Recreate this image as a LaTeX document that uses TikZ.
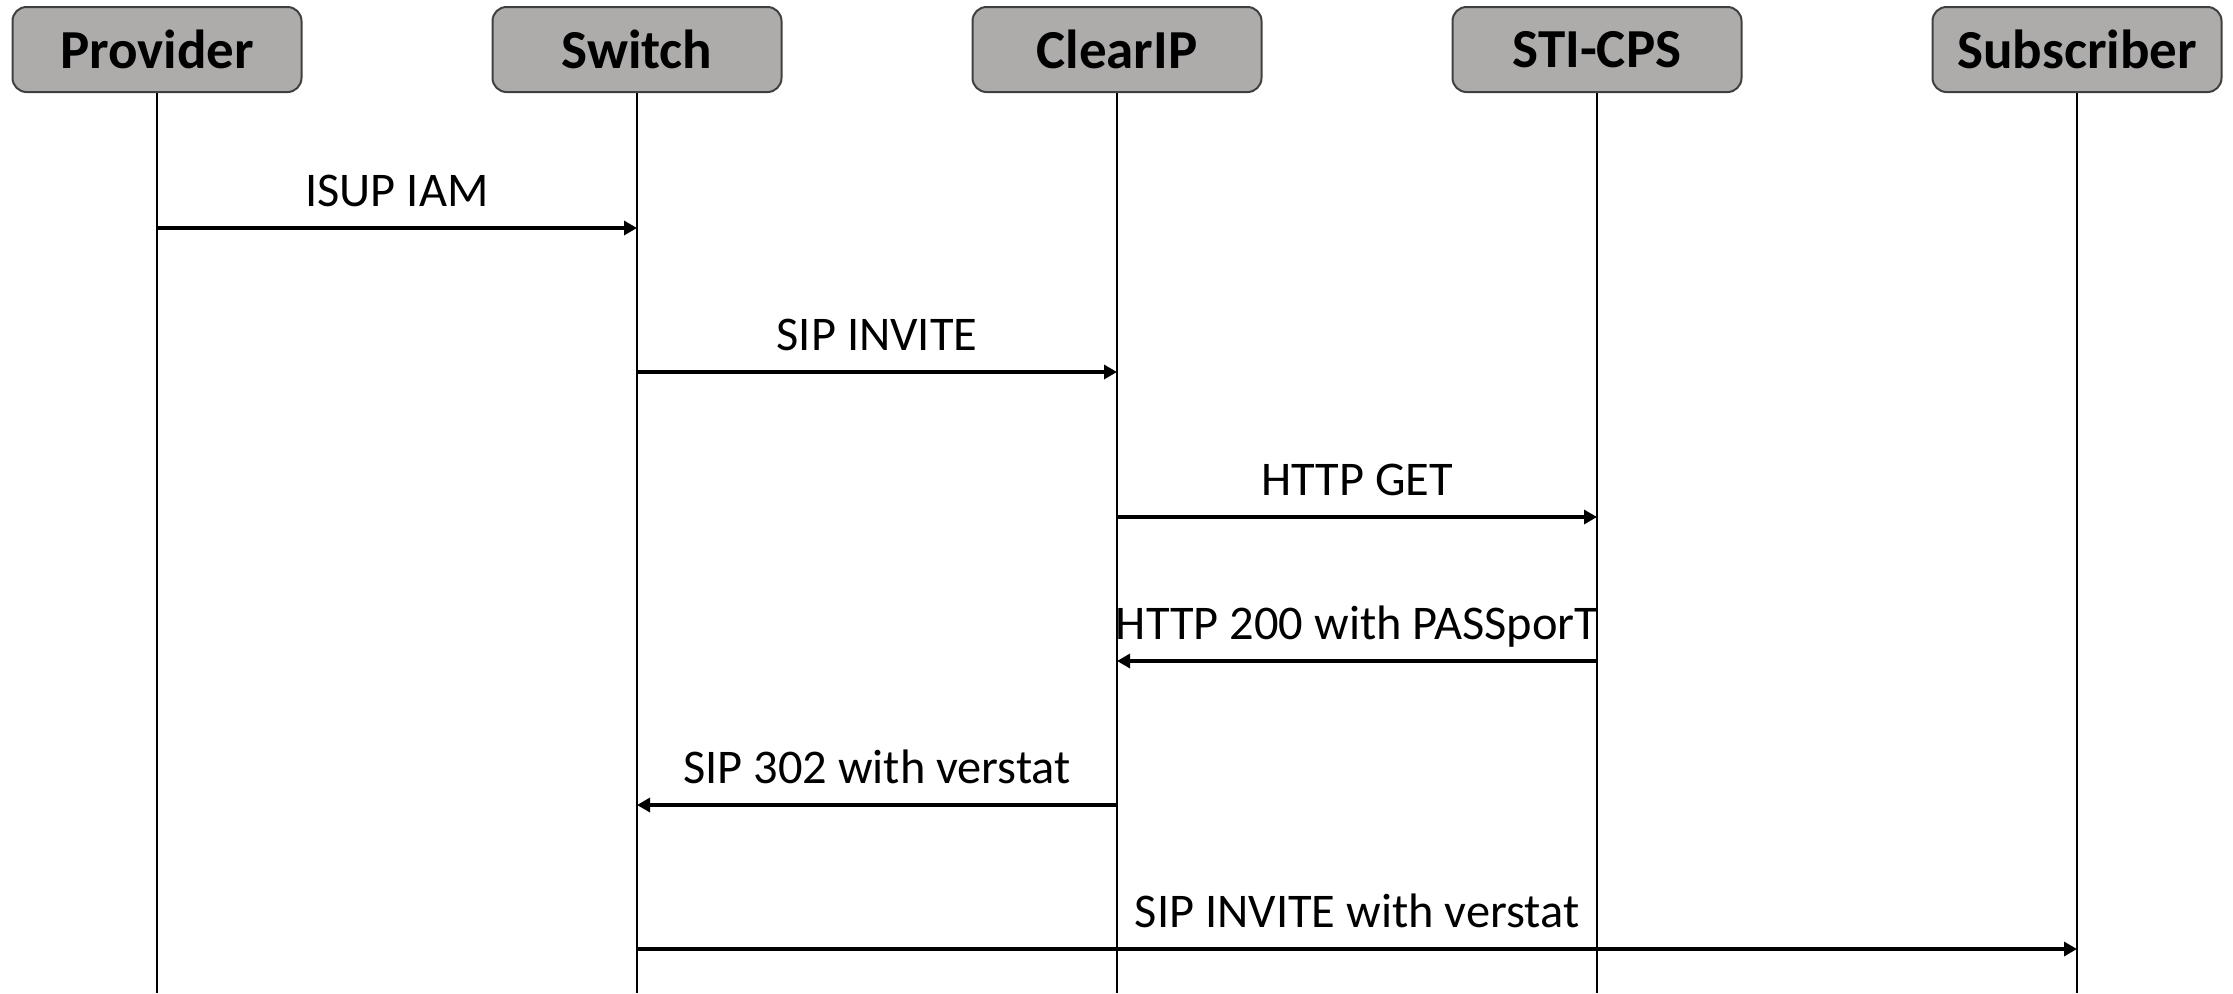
\documentclass[tikz,border=0pt]{standalone}
\usepackage{fontspec}
\setmainfont{Carlito}
\usetikzlibrary{arrows.meta,calc}
\definecolor{boxfill}{HTML}{AEABAB}
\definecolor{boxline}{HTML}{404040}
\tikzset{
  actor/.style={draw=boxline, line width=1pt, fill=boxfill, rounded corners=7pt,
    minimum width=144.5pt, minimum height=42.5pt, inner sep=0pt,
    font=\fontsize{27.5}{32}\selectfont\bfseries},
  lifeline/.style={line width=0.8pt, black},
  msg/.style={line width=1.6pt, -{Triangle[length=6.5pt,width=7pt]}},
  lbl/.style={anchor=base, inner sep=0pt, font=\fontsize{24.2}{28}\selectfont}
}
\begin{document}
\begin{tikzpicture}[x=0.5pt,y=-0.5pt]
  \useasboundingbox (0,0) rectangle (2233,993);
  % participants
  \node[actor] (prov) at (157,49.5) {Provider};
  \node[actor] (sw)   at (637,49.5) {Switch};
  \node[actor] (cip)  at (1117,49.5) {ClearIP};
  \node[actor] (sti)  at (1597,49.5) {STI-CPS};
  \node[actor] (sub)  at (2077,49.5) {Subscriber};
  % bottom of the lifelines
  \coordinate (bot) at (0,993);
  \foreach \n in {prov,sw,cip,sti,sub}
    \draw[lifeline] (\n.south) -- (\n.south |- bot);
  % message rows
  \coordinate (r1) at (0,228);
  \coordinate (r2) at (0,372);
  \coordinate (r3) at (0,517);
  \coordinate (r4) at (0,661);
  \coordinate (r5) at (0,805);
  \coordinate (r6) at (0,949);
  % messages
  \draw[msg] (prov.south |- r1) -- (sw.south |- r1);
  \node[lbl] (l1) at ($(prov.south |- r1)!0.5!(sw.south |- r1) + (0,-22)$) {ISUP IAM};
  \draw[msg] (sw.south |- r2) -- (cip.south |- r2);
  \node[lbl] (l2) at ($(sw.south |- r2)!0.5!(cip.south |- r2) + (0,-22)$) {SIP INVITE};
  \draw[msg] (cip.south |- r3) -- (sti.south |- r3);
  \node[lbl] (l3) at ($(cip.south |- r3)!0.5!(sti.south |- r3) + (0,-22)$) {HTTP GET};
  \draw[msg] (sti.south |- r4) -- (cip.south |- r4);
  \node[lbl] (l4) at ($(cip.south |- r4)!0.5!(sti.south |- r4) + (0,-22)$) {HTTP 200 with PASSporT};
  \draw[msg] (cip.south |- r5) -- (sw.south |- r5);
  \node[lbl] (l5) at ($(sw.south |- r5)!0.5!(cip.south |- r5) + (0,-22)$) {SIP 302 with verstat};
  \draw[msg] (sw.south |- r6) -- (sub.south |- r6);
  \node[lbl] (l6) at ($(cip.south |- r6)!0.5!(sti.south |- r6) + (0,-22)$) {SIP INVITE with verstat};
\end{tikzpicture}
\end{document}
